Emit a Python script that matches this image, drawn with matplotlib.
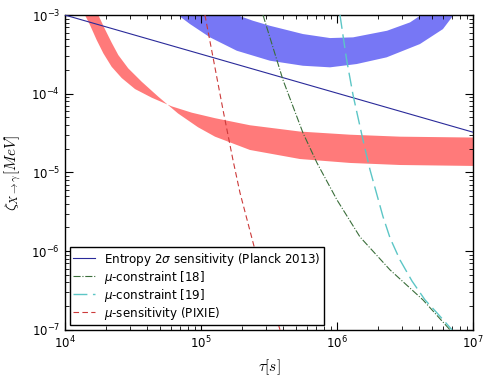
import numpy as np
import matplotlib
matplotlib.use("Agg")
import matplotlib.pyplot as plt

# ---- data (log10 values) ----
ent_tau = [1e4, 1e7]
ent_zeta = [1e-3, 3.25e-5]

red_up_tau_log = [4.10, 4.147, 4.184, 4.233, 4.282, 4.343, 4.417, 4.515, 4.638, 4.785, 4.932,
                  5.103, 5.360, 5.728, 6.096, 6.463, 7.0]
red_up_zeta_log = [-2.85, -3.0, -3.127, -3.317, -3.486, -3.657, -3.80, -3.94, -4.05, -4.16,
                   -4.24, -4.31, -4.40, -4.48, -4.52, -4.545, -4.556]
red_lo_tau_log = [4.21, 4.245, 4.294, 4.343, 4.392, 4.465, 4.564, 4.686, 4.831, 4.978, 5.103,
                  5.360, 5.728, 6.096, 6.463, 7.0]
red_lo_zeta_log = [-2.85, -3.0, -3.18, -3.35, -3.508, -3.677, -3.847, -4.037, -4.250, -4.425,
                   -4.545, -4.714, -4.829, -4.879, -4.905, -4.917]

blue_lo_tau_log = [4.75, 4.821, 4.919, 5.066, 5.263, 5.507, 5.75, 5.949, 6.145, 6.365, 6.610,
                   6.779, 6.853, 6.92]
blue_lo_zeta_log = [-2.90, -2.987, -3.114, -3.283, -3.453, -3.580, -3.644, -3.664, -3.622,
                    -3.537, -3.368, -3.178, -3.009, -2.92]
blue_up_tau_log = [4.75, 5.0, 5.265, 5.382, 5.507, 5.75, 5.949, 6.118, 6.368, 6.537, 6.610,
                   6.8, 6.92]
blue_up_zeta_log = [-2.70, -2.84, -3.0, -3.072, -3.136, -3.241, -3.292, -3.283, -3.199, -3.093,
                    -3.009, -2.79, -2.70]

pix_tau_log = [5.029, 5.088, 5.162, 5.235, 5.287, 5.397, 5.581]
pix_zeta_log = [-3.0, -3.533, -4.206, -4.841, -5.260, -5.984, -7.0]

mu18_tau_log = [5.456, 5.603, 5.75, 5.853, 6.0, 6.169, 6.390, 6.632, 6.831]
mu18_zeta_log = [-3.0, -3.825, -4.498, -4.879, -5.349, -5.819, -6.238, -6.619, -7.0]

mu19_tau_log = [6.022, 6.07, 6.118, 6.191, 6.243, 6.338, 6.39, 6.463, 6.551, 6.647, 6.735, 6.846]
mu19_zeta_log = [-3.0, -3.56, -4.016, -4.587, -4.968, -5.560, -5.832, -6.111, -6.378, -6.619,
                 -6.784, -7.0]

labels = [r'Entropy $2\sigma$ sensitivity (Planck 2013)', r'$\mu$-constraint [18]',
          r'$\mu$-constraint [19]', r'$\mu$-sensitivity (PIXIE)']


def p(a):
    return 10.0 ** np.asarray(a)


fig = plt.figure(figsize=(5.0, 3.77), dpi=100)
ax = fig.add_axes([0.13, 0.125, 0.816, 0.835])
ax.set_xscale('log')
ax.set_yscale('log')

# bands
ax.fill(np.concatenate([p(red_lo_tau_log), p(red_up_tau_log)[::-1]]),
        np.concatenate([p(red_lo_zeta_log), p(red_up_zeta_log)[::-1]]),
        color='#ff7a7a', lw=0, zorder=1)
ax.fill(np.concatenate([p(blue_lo_tau_log), p(blue_up_tau_log)[::-1]]),
        np.concatenate([p(blue_lo_zeta_log), p(blue_up_zeta_log)[::-1]]),
        color='#7777f5', lw=0, zorder=1)

ax.plot(ent_tau, ent_zeta, color='#2a2a9a', lw=0.8, label=labels[0], zorder=3)
ax.plot(p(mu18_tau_log), p(mu18_zeta_log), color='#3a6e3a', lw=0.8, ls='-.',
        label=labels[1], zorder=3)
ax.plot(p(mu19_tau_log), p(mu19_zeta_log), color='#5cc6c6', lw=1.0, ls=(0, (10, 4)),
        label=labels[2], zorder=3)
ax.plot(p(pix_tau_log), p(pix_zeta_log), color='#cc3a3a', lw=0.8, ls=(0, (5, 3)),
        label=labels[3], zorder=3)

ax.set_xlim(1e4, 1e7)
ax.set_ylim(1e-7, 1e-3)
ax.tick_params(which='both', direction='in', top=True, right=True, labelsize=8.5)
ax.tick_params(which='major', length=6)
ax.tick_params(which='minor', length=3)
for s in ax.spines.values():
    s.set_linewidth(1.0)

ax.set_xlabel(r'$\tau[s]$', fontsize=11, math_fontfamily='cm')
ax.set_ylabel(r'$\zeta_{X\rightarrow\gamma}[MeV]$', fontsize=11, math_fontfamily='cm',
              labelpad=6)

leg = ax.legend(loc='lower left', fontsize=8.6, fancybox=False, framealpha=1,
                edgecolor='black', borderaxespad=0.4, handlelength=1.8,
                labelspacing=0.08, borderpad=0.3)
leg.get_frame().set_linewidth(1.0)

fig.savefig('out.png', dpi=100)
